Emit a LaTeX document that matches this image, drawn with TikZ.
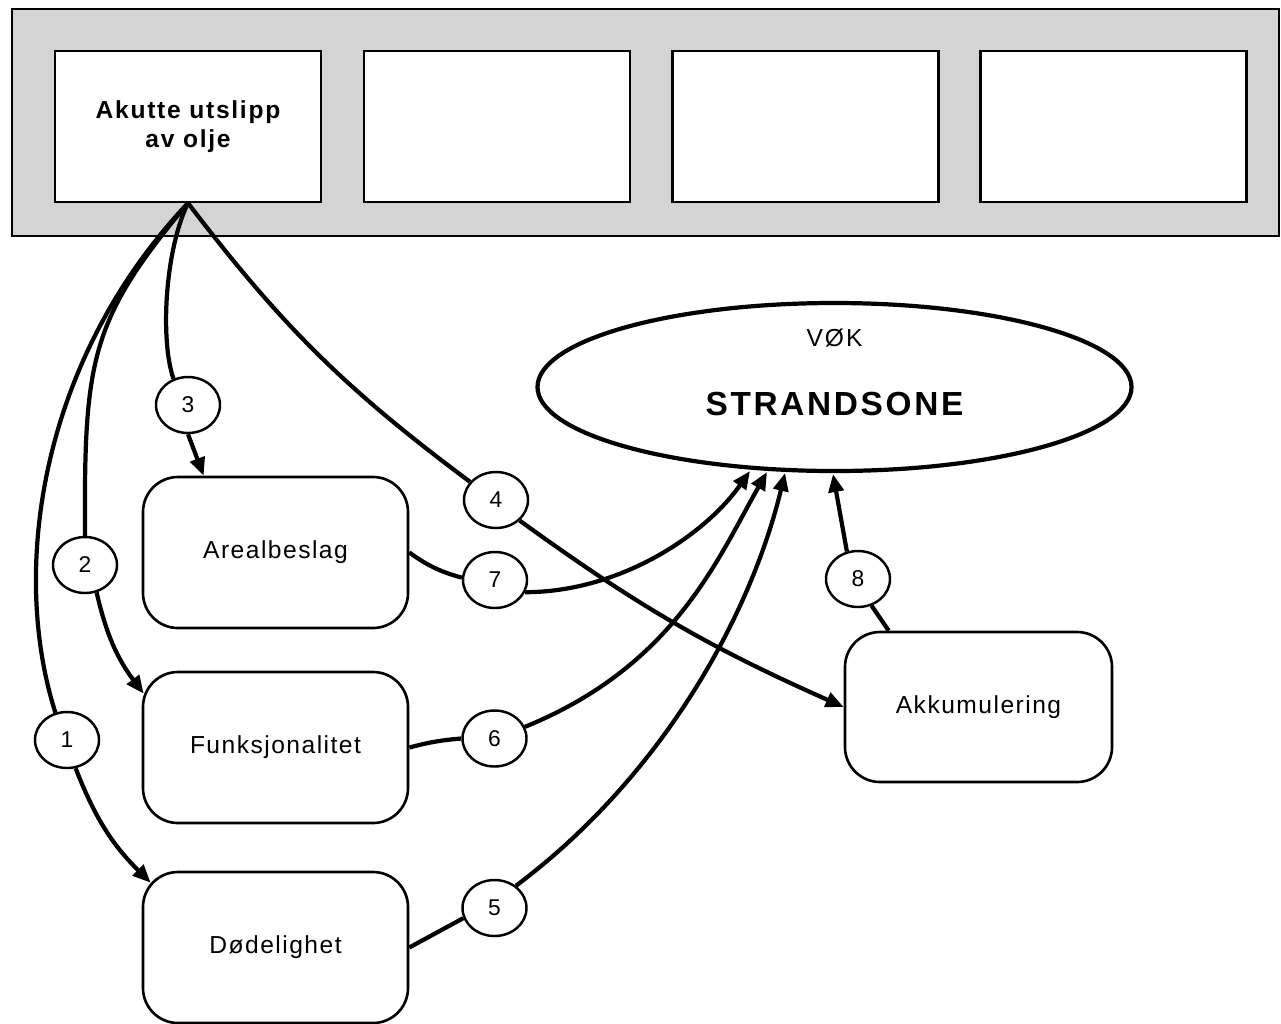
\documentclass[tikz,border=0pt]{standalone}
\usepackage{fontspec}
\setmainfont{Liberation Sans}
\usetikzlibrary{shapes.geometric,arrows.meta,calc}

\begin{document}
\begin{tikzpicture}[x=0.2mm,y=-0.2mm,
  band/.style={fill=black!17, draw=black, line width=0.9pt},
  srcbox/.style={draw=black, fill=white, line width=1.2pt,
    minimum width=53.2mm, minimum height=30.2mm, inner sep=0pt, align=center,
    font=\fontsize{14}{16.8}\selectfont\bfseries\addfontfeatures{LetterSpace=7}},
  effbox/.style={draw=black, fill=white, line width=1.5pt, rounded corners=7mm,
    minimum width=53mm, minimum height=30.2mm, inner sep=0pt,
    font=\fontsize{14}{16}\selectfont\addfontfeatures{LetterSpace=6}},
  numcirc/.style={ellipse, draw=black, fill=white, line width=1.4pt,
    minimum width=12.8mm, minimum height=11.2mm, inner sep=0pt,
    font=\fontsize{13}{15}\selectfont},
  vok/.style={ellipse, draw=black, line width=2.4pt,
    minimum width=118.8mm, minimum height=33.6mm, inner sep=0pt},
  conn/.style={line width=2.4pt},
  arr/.style={conn, -{Triangle[length=3.6mm,width=3mm]}}
]
\useasboundingbox (0,0) rectangle (1281,1023);

% shaded strip with the four source boxes
\draw[band] (12,9) rectangle (1279,236);
\node[srcbox] (src1) at (188,126.5) {Akutte utslipp\\av olje};
\node[srcbox] (src2) at (497,126.5) {};
\node[srcbox] (src3) at (805.5,126.5) {};
\node[srcbox] (src4) at (1113.5,126.5) {};

% valued ecosystem component
\node[vok] (strand) at (834.5,387) {};
\node[font=\fontsize{14}{16}\selectfont\addfontfeatures{LetterSpace=8}] (vokt) at (834.5,338.5) {VØK};
\node[font=\fontsize{19}{22}\selectfont\bfseries\addfontfeatures{LetterSpace=8}] (strandt) at (834.5,404) {STRANDSONE};

% effect boxes
\node[effbox] (areal) at (275.5,552.5) {Arealbeslag};
\node[effbox] (funk) at (275.5,747.5) {Funksjonalitet};
\node[effbox] (dod) at (275.5,947.5) {Dødelighet};
\node[effbox, minimum width=53.4mm, minimum height=30mm] (akk) at (978.5,707) {Akkumulering};

% numbered pathway markers
\node[numcirc] (c1) at (67,740) {1};
\node[numcirc] (c2) at (85,565) {2};
\node[numcirc] (c3) at (188,405) {3};
\node[numcirc] (c4) at (496,500) {4};
\node[numcirc] (c5) at (494.5,908) {5};
\node[numcirc] (c6) at (494.5,738.5) {6};
\node[numcirc] (c7) at (495,580) {7};
\node[numcirc] (c8) at (858,579) {8};

% arrow targets on the ellipse rim
\coordinate (e7) at (750,471);
\coordinate (e6) at (767,472);
\coordinate (e5) at (785,473);
\coordinate (e8) at (833,474);

% pathways from the source
\draw[conn] (src1.south) .. controls (40,360) and (10,570) .. (c1.113);
\draw[arr] (c1.-73) to[bend right=12] ($(dod.north west)+(9,12)$);

\draw[conn] (src1.south) .. controls (90,320) and (84,360) .. (c2.north);
\draw[arr] (c2.-67) to[bend right=12] ($(funk.north west)+(2,23)$);

\draw[conn] (src1.south) .. controls (165,250) and (160,340) .. (c3.119);
\draw[arr] (c3.south) -- ($(areal.north west)+(62,0)$);

\draw[conn] (src1.south) to[bend right=8] (c4.145);
\draw[arr] (c4.-41) to[bend right=6] (akk.west);

% effects on the shore zone
\draw[conn] (areal.east) to[bend right=10] (c7.176);
\draw[arr] (c7.-22) .. controls (620,592) and (705,535) .. (e7);

\draw[conn] (funk.east) to[bend left=5] (c6.west);
\draw[arr] (c6.21) .. controls (674,666) and (717,560) .. (e6);

\draw[conn] (dod.east) -- (c5.-162);
\draw[arr] (c5.46) .. controls (661,777) and (750,618) .. (e5);

\draw[conn] ($(akk.north west)+(45,0)$) -- (c8.-63);
\draw[arr] (c8.112) -- (e8);
\end{tikzpicture}
\end{document}
